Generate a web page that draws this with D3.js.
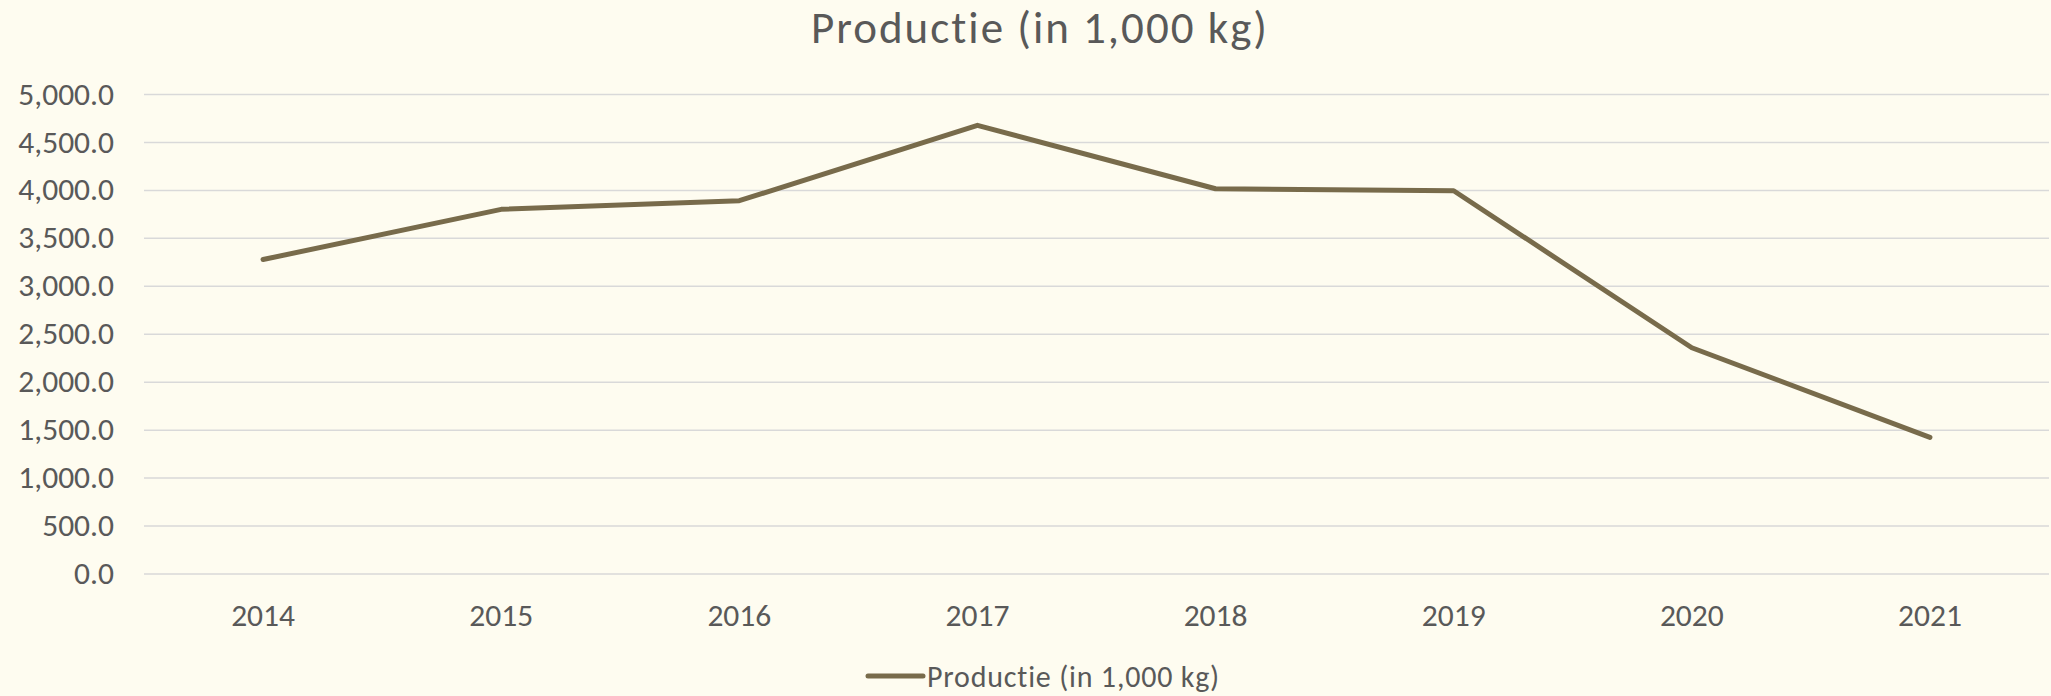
<!DOCTYPE html>
<html>
<head>
<meta charset="utf-8">
<script src="https://cdn.jsdelivr.net/npm/d3@7"></script>
<style>
  body { margin: 0; background: #fefcf0; }
  svg { display: block; font-family: Carlito, Calibri, Lato, sans-serif; }
  .grid line { stroke: #d9d9d9; stroke-width: 1.5; }
  .axis text { fill: #595959; }
</style>
</head>
<body>
<div id="chart"></div>
<script>
const width = 2051,
  height = 696,
  margin = { top: 94, bottom: 124, left: 144, right: 2 };

// data
const years = ["2014", "2015", "2016", "2017", "2018", "2019", "2020", "2021"];
const production = [3274, 3797, 3887, 4673, 4012, 3991, 2354, 1420];
const yTicks = [0, 500, 1000, 1500, 2000, 2500, 3000, 3500, 4000, 4500, 5000];
const seriesName = "Productie (in 1,000 kg)";

const data = years.map((y, i) => ({ year: y, value: production[i] }));

const svg = d3
  .select("#chart")
  .append("svg")
  .attr("width", width)
  .attr("height", height);

svg.append("rect").attr("width", width).attr("height", height).attr("fill", "#fefcf0");

const xScale = d3
  .scaleBand()
  .domain(years)
  .range([margin.left, width - margin.right]);

const yScale = d3
  .scaleLinear()
  .domain([0, 5000])
  .range([height - margin.bottom + 1.5, margin.top]);

// gridlines + y labels
const yAxis = d3
  .axisLeft(yScale)
  .tickValues(yTicks)
  .tickFormat(d3.format(",.1f"))
  .tickSizeInner(-(width - margin.left - margin.right))
  .tickSizeOuter(0)
  .tickPadding(30);

svg
  .append("g")
  .attr("class", "axis grid")
  .attr("transform", `translate(${margin.left},0)`)
  .call(yAxis)
  .attr("font-family", null)
  .attr("font-size", null)
  .call(g => g.select(".domain").remove())
  .call(g => g.selectAll("text").style("font-size", "31.5px"));

// x labels
const xAxis = d3.axisBottom(xScale).tickSize(0).tickPadding(42);

svg
  .append("g")
  .attr("class", "axis")
  .attr("transform", `translate(0,${yScale(0)})`)
  .call(xAxis)
  .attr("font-family", null)
  .attr("font-size", null)
  .call(g => g.select(".domain").remove())
  .call(g => g.selectAll("text").style("font-size", "31.5px").attr("dy", "0.32em").attr("y", 42));

// the line
const line = d3
  .line()
  .x(d => xScale(d.year) + xScale.bandwidth() / 2)
  .y(d => yScale(d.value));

svg
  .append("path")
  .datum(data)
  .attr("fill", "none")
  .attr("stroke", "#786b4b")
  .attr("stroke-width", 5)
  .attr("stroke-linecap", "round")
  .attr("stroke-linejoin", "round")
  .attr("d", line);

// title
svg
  .append("text")
  .attr("x", 1040)
  .attr("y", 43)
  .attr("text-anchor", "middle")
  .style("font-size", "45px")
  .style("letter-spacing", "2px")
  .style("fill", "#595959")
  .text(seriesName);

// legend
const legend = svg.append("g").attr("transform", "translate(868,676)");
legend
  .append("line")
  .attr("x1", 0)
  .attr("x2", 55)
  .attr("stroke", "#786b4b")
  .attr("stroke-width", 5)
  .attr("stroke-linecap", "round");
legend
  .append("text")
  .attr("x", 59)
  .attr("dy", "0.35em")
  .style("font-size", "30px")
  .style("letter-spacing", "0.8px")
  .style("fill", "#595959")
  .text(seriesName);
</script>
</body>
</html>
